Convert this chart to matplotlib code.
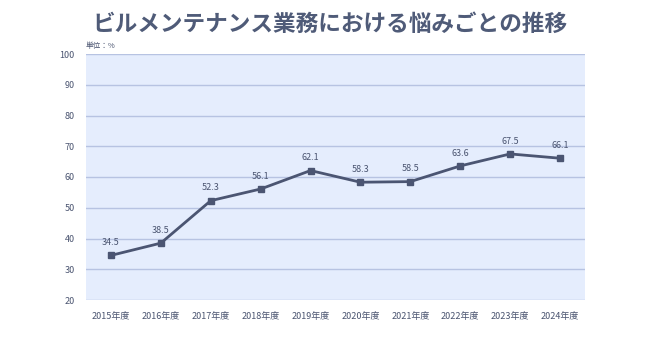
import matplotlib.pyplot as plt

plt.rcParams['font.family'] = ['Noto Sans CJK JP', 'DejaVu Sans']

# 年度別の割合（%）
years = ['2015年度', '2016年度', '2017年度', '2018年度', '2019年度',
         '2020年度', '2021年度', '2022年度', '2023年度', '2024年度']
rates = [34.5, 38.5, 52.3, 56.1, 62.1, 58.3, 58.5, 63.6, 67.5, 66.1]
y_ticks = [20, 30, 40, 50, 60, 70, 80, 90, 100]

text_col = '#4a5470'
line_col = '#4b5572'

fig = plt.figure(figsize=(6.6, 3.38), dpi=100)
fig.patch.set_facecolor('white')
ax = fig.add_axes([86 / 660, 1 - 300 / 338, 499 / 660, 246 / 338])
ax.set_facecolor('#e5edfd')

x = list(range(len(years)))
ax.plot(x, rates, color=line_col, linewidth=2.0, marker='s', markersize=4,
        zorder=3)
for xi, v in zip(x, rates):
    ax.annotate(f'{v:.1f}', (xi, v), xytext=(0, 6), textcoords='offset points',
                ha='center', va='bottom', fontsize=6.5, color=text_col)

ax.set_xlim(-0.5, len(years) - 0.5)
ax.set_ylim(20, 100)
ax.set_yticks(y_ticks)
ax.set_xticks(x)
ax.set_xticklabels(years)
ax.grid(axis='y', color='#b7c3e2', linewidth=1)
ax.set_axisbelow(True)
for s in ax.spines.values():
    s.set_visible(False)
ax.tick_params(axis='both', length=0, labelsize=6.5, colors=text_col)
ax.tick_params(axis='x', pad=9)
ax.tick_params(axis='y', pad=8)

fig.text(86 / 660, 1 - 46 / 338, '単位：%', fontsize=5.5, color=text_col,
         ha='left', va='center')
fig.text(0.5, 1 - 24 / 338, 'ビルメンテナンス業務における悩みごとの推移',
         fontsize=16.3, fontweight='semibold', color='#4f5b78',
         ha='center', va='center')

fig.savefig('out.png', dpi=100, facecolor='white')
